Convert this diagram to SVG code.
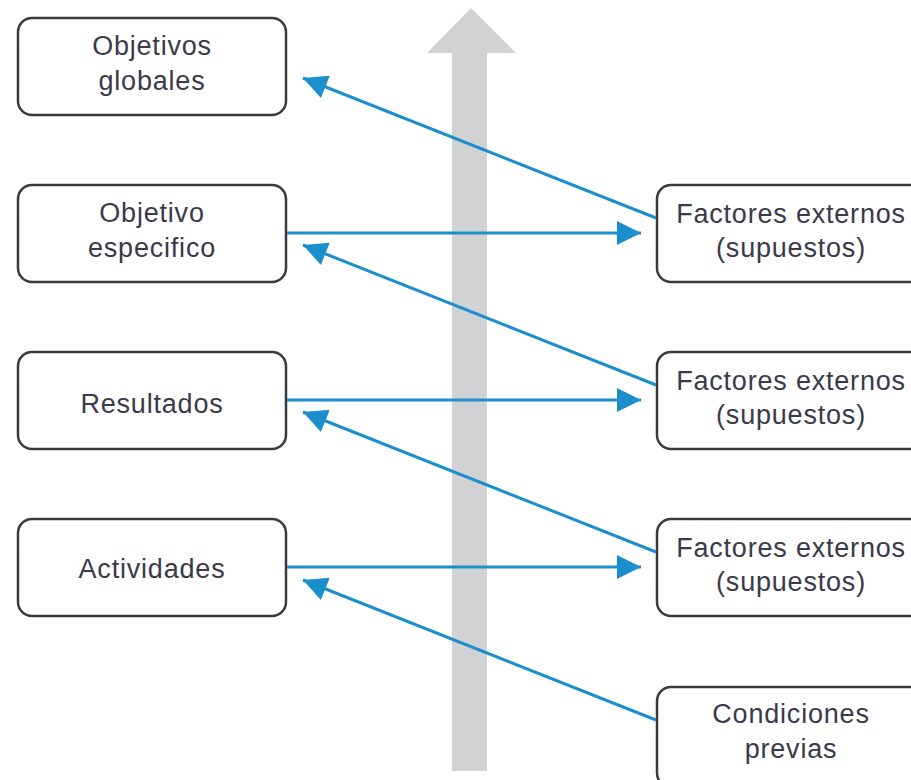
<svg xmlns="http://www.w3.org/2000/svg" width="911" height="780" viewBox="0 0 911 780">
<defs>
<marker id="ah" viewBox="0 0 10 10" refX="10" refY="5" markerWidth="8.5" markerHeight="8" markerUnits="strokeWidth" orient="auto">
<path d="M0,0 L10,5 L0,10 z" fill="#1b8fcc"/>
</marker>
<style>
.box{fill:#fff;stroke:#3a3a3a;stroke-width:2.5}
.t{font-family:"Liberation Sans",Arial,sans-serif;font-size:27px;letter-spacing:0.8px;fill:#3a3a4a;text-anchor:middle}
.c{stroke:#1b8fcc;stroke-width:3;fill:none;marker-end:url(#ah)}
</style>
</defs>
<g id="bigarrow">
<polygon points="452,771 487,771 487,53 516,53 471,8 427,53 452,53" fill="#d1d2d4"/>
</g>
<g id="n1"><rect class="box" x="18" y="18" width="268" height="97" rx="14"/><text class="t" x="152" y="55">Objetivos</text><text class="t" x="152" y="90">globales</text></g>
<g id="n2"><rect class="box" x="18" y="185" width="268" height="97" rx="14"/><text class="t" x="152" y="222">Objetivo</text><text class="t" x="152" y="257">especifico</text></g>
<g id="n3"><rect class="box" x="18" y="352" width="268" height="97" rx="14"/><text class="t" x="152" y="413">Resultados</text></g>
<g id="n4"><rect class="box" x="18" y="519" width="268" height="97" rx="14"/><text class="t" x="152" y="578">Actividades</text></g>
<g id="r1"><rect class="box" x="657" y="185" width="270" height="97" rx="14"/><text class="t" x="791" y="223">Factores externos</text><text class="t" x="791" y="257">(supuestos)</text></g>
<g id="r2"><rect class="box" x="657" y="352" width="270" height="97" rx="14"/><text class="t" x="791" y="390">Factores externos</text><text class="t" x="791" y="424">(supuestos)</text></g>
<g id="r3"><rect class="box" x="657" y="519" width="270" height="97" rx="14"/><text class="t" x="791" y="557">Factores externos</text><text class="t" x="791" y="591">(supuestos)</text></g>
<g id="r4"><rect class="box" x="657" y="687" width="270" height="100" rx="14"/><text class="t" x="791" y="723">Condiciones</text><text class="t" x="791" y="758">previas</text></g>
<g id="connectors">
<line class="c" x1="656" y1="218" x2="303" y2="78"/>
<line class="c" x1="287" y1="233" x2="641" y2="233"/>
<line class="c" x1="656" y1="385" x2="303" y2="245"/>
<line class="c" x1="287" y1="400" x2="641" y2="400"/>
<line class="c" x1="656" y1="552" x2="303" y2="412"/>
<line class="c" x1="287" y1="567" x2="641" y2="567"/>
<line class="c" x1="656" y1="720" x2="303" y2="580"/>
</g>
</svg>
